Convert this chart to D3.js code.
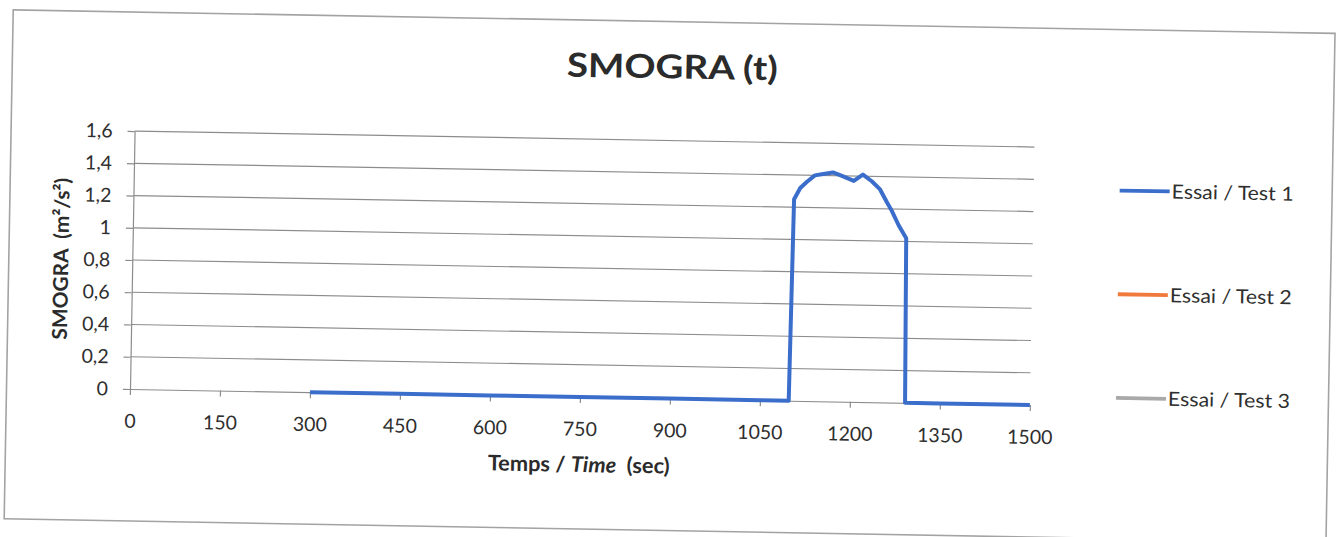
<!DOCTYPE html>
<html><head><meta charset="utf-8">
<script src="https://cdn.jsdelivr.net/npm/d3@7"></script>
<style>html,body{margin:0;padding:0;background:#fff;} svg{display:block;}</style>
</head><body>
<svg id="chart" width="1336" height="537"></svg>
<script>
// ---------------- data ----------------
const chartTitle = "SMOGRA (t)";
const xTitleParts = [["Temps / ", "normal"], ["Time", "italic"], ["  (sec)", "normal"]];
const yTitle = "SMOGRA  (m²/s²)";
const xTickValues = [0, 150, 300, 450, 600, 750, 900, 1050, 1200, 1350, 1500];
const yTickValues = [0, 0.2, 0.4, 0.6, 0.8, 1, 1.2, 1.4, 1.6];
const yTickLabels = ["0", "0,2", "0,4", "0,6", "0,8", "1", "1,2", "1,4", "1,6"];
const seriesNames = ["Essai / Test 1", "Essai / Test 2", "Essai / Test 3"];
const seriesColors = ["#3b6dcb", "#f07a3c", "#a9a9a9"];
const test1Time  = [300, 450, 600, 750, 900, 1050, 1098, 1101, 1111, 1122, 1135, 1149, 1165, 1180, 1200, 1215, 1230, 1244, 1256, 1264, 1276, 1289, 1292, 1350, 1500];
const test1Value = [0, 0, 0, 0, 0, 0, 0, 1.25, 1.32, 1.36, 1.40, 1.41, 1.42, 1.40, 1.37, 1.41, 1.37, 1.32, 1.24, 1.19, 1.10, 1.02, 0, 0, 0];
const test2Time = [], test2Value = [];
const test3Time = [], test3Value = [];

// ---------------- layout ----------------
const W = 1336, H = 537;
const plot = {left: 130, right: 1030, top: 131, bottom: 389};
const tilt = Math.atan(16 / 900) * 180 / Math.PI;   // scanned page is slightly rotated
const font = "Lato, 'Open Sans', sans-serif";
const textColor = "#2f2f2f";
const gridColor = "#8c8c8c";

const svg = d3.select("#chart");
svg.append("rect").attr("width", W).attr("height", H).attr("fill", "#fff");
const root = svg.append("g").attr("transform", `rotate(${tilt},${plot.left},${plot.bottom})`);

root.append("rect").attr("x", 6.5).attr("y", 12).attr("width", 1322).attr("height", 509)
  .attr("fill", "none").attr("stroke", "#a3a3a3").attr("stroke-width", 1.6);

const x = d3.scaleLinear().domain([0, 1500]).range([plot.left, plot.right]);
const y = d3.scaleLinear().domain([0, 1.6]).range([plot.bottom, plot.top]);

function stretch(textSel, target) {
  const w = textSel.node().getComputedTextLength();
  return target / w;
}

// gridlines
root.append("g").selectAll("line").data(yTickValues.filter(d => d > 0)).join("line")
  .attr("x1", plot.left).attr("x2", plot.right)
  .attr("y1", d => y(d)).attr("y2", d => y(d))
  .attr("stroke", gridColor).attr("stroke-width", 1.2);

// y axis
const gy = root.append("g").attr("transform", `translate(${plot.left},0)`)
  .call(d3.axisLeft(y).tickValues(yTickValues).tickFormat((d, i) => yTickLabels[i])
    .tickSize(7).tickSizeOuter(0).tickPadding(15));
gy.select(".domain").attr("stroke", gridColor).attr("stroke-width", 1.2);
gy.selectAll(".tick line").attr("stroke", gridColor).attr("stroke-width", 1.2);
gy.selectAll("text").attr("font-family", font).attr("font-size", 19.5).attr("fill", textColor);

// x axis
const gx = root.append("g").attr("transform", `translate(0,${plot.bottom})`)
  .call(d3.axisBottom(x).tickValues(xTickValues).tickFormat(d3.format("d"))
    .tickSize(6).tickSizeOuter(0).tickPadding(19));
gx.select(".domain").attr("stroke", gridColor).attr("stroke-width", 1.2);
gx.selectAll(".tick line").attr("stroke", gridColor).attr("stroke-width", 1.2);
gx.selectAll("text").attr("font-family", font).attr("font-size", 19.5).attr("fill", textColor);

// series
const series = [
  {name: seriesNames[0], color: seriesColors[0], pts: test1Time.map((t, i) => ({t, v: test1Value[i]}))},
  {name: seriesNames[1], color: seriesColors[1], pts: test2Time.map((t, i) => ({t, v: test2Value[i]}))},
  {name: seriesNames[2], color: seriesColors[2], pts: test3Time.map((t, i) => ({t, v: test3Value[i]}))}
];
const line = d3.line().x(d => x(d.t)).y(d => y(d.v));
root.append("g").selectAll("path").data(series.filter(s => s.pts.length)).join("path")
  .attr("d", s => line(s.pts)).attr("fill", "none")
  .attr("stroke", s => s.color).attr("stroke-width", 4)
  .attr("stroke-linejoin", "round").attr("stroke-linecap", "butt");

// title
const tt = root.append("text").attr("text-anchor", "middle")
  .attr("font-family", font).attr("font-weight", 700).attr("font-size", 33)
  .attr("fill", "#2b2b2b").text(chartTitle);
tt.attr("transform", `translate(666.5,68.8) scale(${stretch(tt, 211)},1)`);

// x title
const xt = root.append("text").attr("text-anchor", "middle")
  .attr("font-family", font).attr("font-weight", 700).attr("font-size", 21.5).attr("fill", "#2b2b2b");
xt.selectAll("tspan").data(xTitleParts).join("tspan")
  .attr("font-style", d => d[1]).attr("xml:space", "preserve").text(d => d[0]);
xt.attr("transform", `translate(580,464) scale(${stretch(xt, 182)},1)`);

// y title
const yg = root.append("g").attr("transform", `translate(66,260) rotate(-90)`);
const ytx = yg.append("text").attr("text-anchor", "middle")
  .attr("font-family", font).attr("font-weight", 700).attr("font-size", 20.5)
  .attr("fill", "#2b2b2b").attr("xml:space", "preserve").text(yTitle);
ytx.attr("transform", `scale(${stretch(ytx, 162)},1)`);

// legend
const legendTop = 173, legendStep = 103.7;
series.forEach((s, i) => {
  const ly = legendTop + i * legendStep;
  root.append("line").attr("x1", 1116).attr("x2", 1166).attr("y1", ly).attr("y2", ly)
    .attr("stroke", s.color).attr("stroke-width", 3.8);
  const lt = root.append("text").attr("font-family", font).attr("font-size", 19.5)
    .attr("fill", textColor).text(s.name);
  lt.attr("transform", `translate(1168,${ly + 7}) scale(${stretch(lt, 122)},1)`);
});
</script>
</body></html>
